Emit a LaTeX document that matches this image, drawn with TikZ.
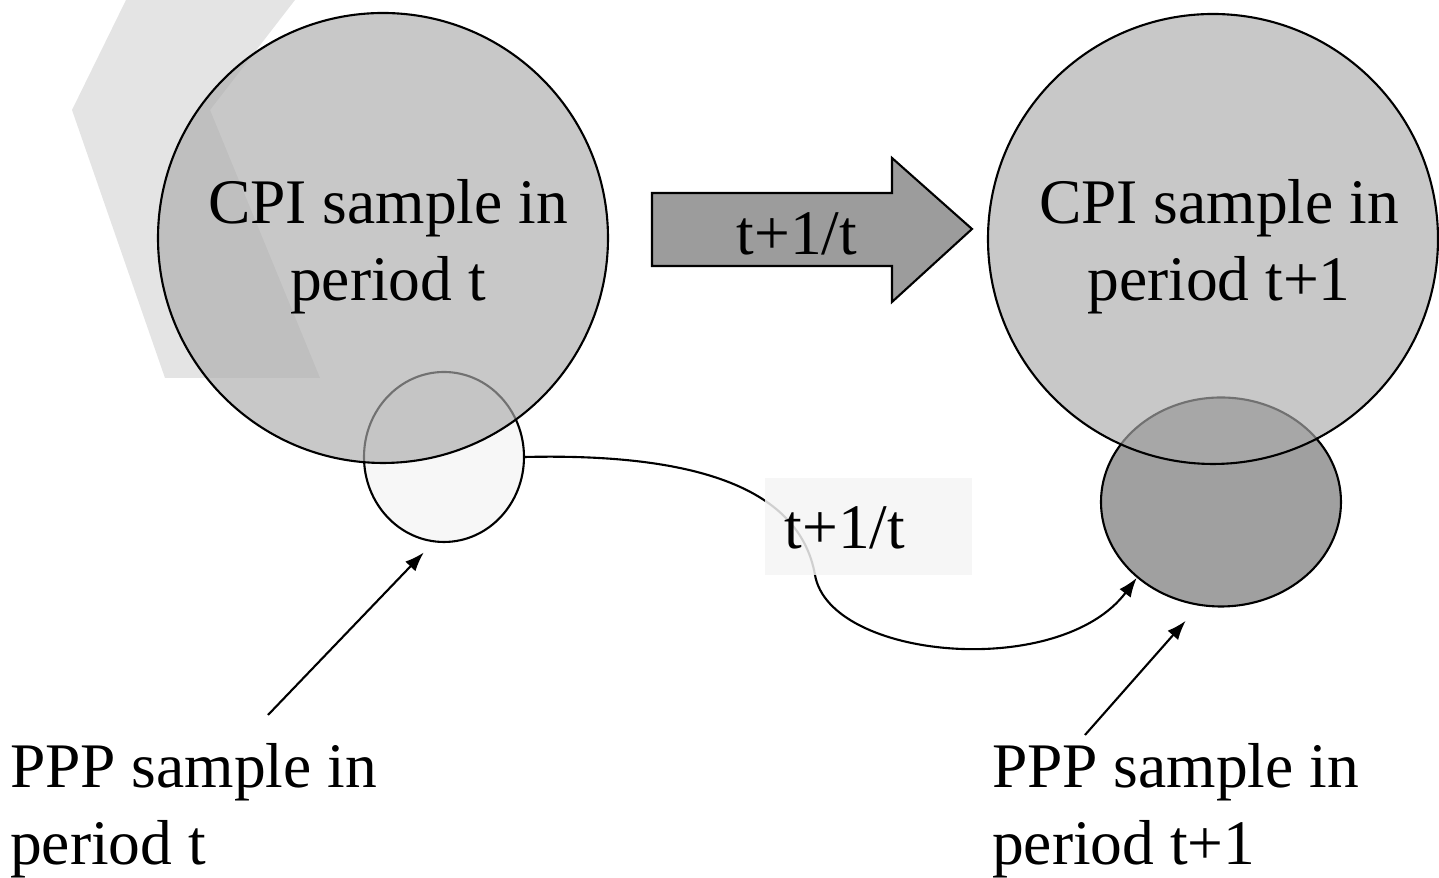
\documentclass[tikz,border=0pt]{standalone}
\usepackage{fontspec}
\setmainfont{Liberation Serif}
\usetikzlibrary{shapes.geometric,arrows.meta}
\definecolor{cpifill}{RGB}{172,172,172}
\definecolor{pppfill}{RGB}{160,160,160}
\definecolor{pppold}{RGB}{247,247,247}
\definecolor{bigarrow}{RGB}{156,156,156}
\definecolor{logo}{RGB}{228,228,228}
\definecolor{lblback}{RGB}{244,244,244}
\tikzset{
  sample/.style={draw,line width=.6pt,inner sep=0pt},
  cpi/.style={sample,circle,minimum size=4.5cm,fill=cpifill,fill opacity=.66},
  lbl/.style={font=\fontsize{18.07}{21.9}\selectfont,inner sep=0pt},
}

\begin{document}
\begin{tikzpicture}[>={Latex[length=5.5pt,width=4pt]},line width=.6pt]
\useasboundingbox (0,0) rectangle (14.39,8.78);
\fill[logo] (1.26,8.78) -- (2.95,8.78) -- (2.10,7.68) -- (3.20,5.00) -- (1.65,5.00) -- (0.72,7.68) -- cycle;
\node[sample,ellipse,minimum width=1.6cm,minimum height=1.7cm,fill=pppold] (pppt) at (4.44,4.21) {};
\node[cpi] (cpit) at (3.83,6.40) {};
\node[sample,ellipse,minimum width=2.4cm,minimum height=2.09cm,fill=pppfill] (pppt1) at (12.21,3.76) {};
\node[cpi] (cpit1) at (12.13,6.39) {};
\filldraw[fill=bigarrow] (6.52,6.85) -- (8.92,6.85) -- (8.92,7.20) -- (9.72,6.49) -- (8.92,5.76) -- (8.92,6.12) -- (6.52,6.12) -- cycle;
\draw[->] (pppt.east) .. controls (7.00,4.25) and (8.00,3.88) .. (8.15,3.03) .. controls (8.30,2.18) and (10.60,1.98) .. (pppt1.222);
\fill[lblback,opacity=.85] (7.65,4.00) rectangle (9.72,3.03);
\node[lbl,align=center] (cpitxt) at (3.88,6.31) {CPI sample in\\period t};
\node[lbl,align=center] (cpit1txt) at (12.19,6.31) {CPI sample in\\period t+1};
\node[lbl,anchor=base] (move1) at (7.97,6.23) {t+1/t};
\node[lbl,anchor=base] (move2) at (8.45,3.29) {t+1/t};
\coordinate (fromt) at (2.68,1.63);
\coordinate (fromt1) at (10.85,1.43);
\draw[->,shorten >=.14cm] (fromt) -- (pppt.263);
\draw[->,shorten >=.2cm] (fromt1) -- (pppt1.258);
\node[lbl,align=left,anchor=west] (ppptxt) at (0.09,0.67) {PPP sample in\\period t};
\node[lbl,align=left,anchor=west] (pppt1txt) at (9.91,0.67) {PPP sample in\\period t+1};
\end{tikzpicture}
\end{document}
